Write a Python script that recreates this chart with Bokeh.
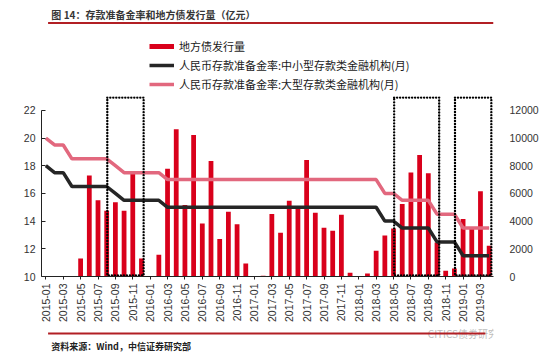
import math
from bokeh.plotting import figure
from bokeh.layouts import column
from bokeh.core.properties import value
from bokeh.models import (Range1d, LinearAxis, FixedTicker, Legend, LegendItem,
                          BoxAnnotation, ColumnDataSource)
from bokeh.embed import file_html
from bokeh.resources import INLINE

# ---------------- data ----------------
months = [f"{y}-{m:02d}" for y in range(2015, 2020) for m in range(1, 13)][:52]

# 地方债发行量 (亿元)
issuance = [0, 0, 0, 0, 1300, 7300, 5500, 4750, 5370, 4750, 7450, 1300,
            0, 1570, 7790, 10630, 5160, 10220, 3830, 8340, 2700, 4680, 3780, 940,
            0, 50, 4510, 3160, 5470, 4870, 8410, 4600, 3520, 3300, 4460, 270,
            0, 220, 1860, 2960, 3470, 5230, 7520, 8770, 7450, 2460, 410, 580,
            4150, 3470, 6150, 2220]

# 人民币存款准备金率:中小型存款类金融机构(月)
rrr_small = [18.0, 17.5, 17.5, 16.5, 16.5, 16.5, 16.5, 16.5, 16.0, 15.5, 15.5, 15.5,
             15.5, 15.5, 15.0, 15.0, 15.0, 15.0, 15.0, 15.0, 15.0, 15.0, 15.0, 15.0,
             15.0, 15.0, 15.0, 15.0, 15.0, 15.0, 15.0, 15.0, 15.0, 15.0, 15.0, 15.0,
             15.0, 15.0, 15.0, 14.0, 14.0, 13.5, 13.5, 13.5, 13.5, 12.5, 12.5, 12.5,
             11.5, 11.5, 11.5, 11.5]

# 人民币存款准备金率:大型存款类金融机构(月)
rrr_large = [20.0, 19.5, 19.5, 18.5, 18.5, 18.5, 18.5, 18.5, 18.0, 17.5, 17.5, 17.5,
             17.5, 17.5, 17.0, 17.0, 17.0, 17.0, 17.0, 17.0, 17.0, 17.0, 17.0, 17.0,
             17.0, 17.0, 17.0, 17.0, 17.0, 17.0, 17.0, 17.0, 17.0, 17.0, 17.0, 17.0,
             17.0, 17.0, 17.0, 16.0, 16.0, 15.5, 15.5, 15.5, 15.5, 14.5, 14.5, 14.5,
             13.5, 13.5, 13.5, 13.5]

left_ticks = [10, 12, 14, 16, 18, 20, 22]
right_ticks = [0, 2000, 4000, 6000, 8000, 10000, 12000]

# highlighted periods (dotted boxes)
boxes = [("2015-08", "2015-12"), ("2018-05", "2018-10"), ("2018-12", "2019-04")]

title_text = "图 14：存款准备金率和地方债发行量（亿元）"
source_text = "资料来源：Wind，中信证券研究部"
watermark_text = "CITICS债券研究"
legend_labels = ["地方债发行量",
                 "人民币存款准备金率:中小型存款类金融机构(月)",
                 "人民币存款准备金率:大型存款类金融机构(月)"]

# ---------------- style ----------------
W, H = 550, 357
HEAD_H = 96          # header strip (title + legend)
FOOT_H = 31          # footer strip (source)
MAIN_H = H - HEAD_H - FOOT_H
FL, FR = 41, 493     # frame left / right in px
FB = 180             # frame bottom within main figure
RED = "#D9001B"
BLACK = "#262626"
PINK = "#E2687E"
DARKRED = "#B21F24"
CJK = "Noto Sans CJK SC"
LAT = "Liberation Sans"


def strip(height):
    f = figure(width=W, height=height, x_range=Range1d(0, W), y_range=Range1d(0, height),
               x_axis_type=None, y_axis_type=None, output_backend="svg",
               toolbar_location=None, min_border=0)
    f.min_border_left = f.min_border_right = f.min_border_top = f.min_border_bottom = 0
    f.outline_line_color = None
    f.background_fill_color = "white"
    f.border_fill_color = "white"
    return f


# ---------------- main chart ----------------
idx = list(range(len(months)))
src = ColumnDataSource(dict(x=idx, month=months, v=issuance, s=rrr_small, l=rrr_large))

p = figure(width=W, height=MAIN_H,
           x_range=Range1d(-0.5, len(months) - 0.5), y_range=Range1d(10, 23),
           x_axis_type=None, y_axis_type=None,
           output_backend="svg", toolbar_location=None,
           min_border_left=FL, min_border_right=W - FR,
           min_border_top=0, min_border_bottom=MAIN_H - FB)
p.extra_y_ranges = {"r": Range1d(0, 13000)}
p.outline_line_color = None
p.background_fill_color = "white"
p.border_fill_color = "white"

xa = LinearAxis(ticker=FixedTicker(ticks=idx[::2]))
xa.major_label_overrides = {i: months[i] for i in idx[::2]}
xa.major_label_orientation = math.pi / 2
xa.major_label_text_font = LAT
xa.major_label_text_font_size = "10.5px"
xa.major_label_text_color = "#333333"
xa.major_label_standoff = 4
xa.major_tick_in = 0
xa.major_tick_out = 3
xa.minor_tick_line_color = None
xa.axis_line_color = "#222222"
xa.major_tick_line_color = "#222222"
p.add_layout(xa, "below")

ya = LinearAxis(ticker=FixedTicker(ticks=left_ticks), bounds=(10, 22))
ya.major_label_text_font = LAT
ya.major_label_text_font_size = "10.5px"
ya.major_label_text_color = "#333333"
ya.major_label_standoff = 6
ya.major_tick_in = 4
ya.major_tick_out = 0
ya.minor_tick_line_color = None
ya.axis_line_color = "#222222"
ya.major_tick_line_color = "#222222"
p.add_layout(ya, "left")

ra = LinearAxis(y_range_name="r", ticker=FixedTicker(ticks=right_ticks), bounds=(0, 12000))
ra.major_label_text_font = LAT
ra.major_label_text_font_size = "10.5px"
ra.major_label_text_color = "#333333"
ra.major_label_standoff = 10
ra.major_tick_line_color = None
ra.minor_tick_line_color = None
ra.axis_line_color = None
p.add_layout(ra, "right")

p.vbar(x="x", top="v", width=0.55, source=src, y_range_name="r",
       fill_color=RED, line_color=None)
p.line(x="x", y="s", source=src, line_color=BLACK, line_width=3.5)
p.line(x="x", y="l", source=src, line_color=PINK, line_width=3.5)

mi = {m: i for i, m in enumerate(months)}
bsrc = ColumnDataSource(dict(
    left=[mi[a] + 0.07 for a, b in boxes],
    right=[mi[b] + 0.25 for a, b in boxes],
    top=[22.93] * len(boxes),
    bottom=[10.08] * len(boxes)))
p.quad(left="left", right="right", top="top", bottom="bottom", source=bsrc,
       fill_color=None, line_color="black", line_width=2.4,
       line_dash="0 3", line_cap="round")

# ---------------- header: title + legend ----------------
h = strip(HEAD_H)
h.text(x=[12], y=[HEAD_H - 14], text=[title_text], text_font=value(CJK),
       text_font_size=value("10px"), text_font_style="bold",
       text_color="#363636", text_baseline="middle", text_align="left")
h.add_layout(BoxAnnotation(left=8, right=W, bottom=HEAD_H - 23.5, top=HEAD_H - 21.5,
                           fill_color=DARKRED, fill_alpha=1, line_color=None))
# legend proxies (off-screen, only their legend swatches are seen)
off = dict(x=[-20, -10], y=[-20, -20])
lg_bar = h.line(line_color=RED, line_width=5, **off)
lg_small = h.line(line_color=BLACK, line_width=3.5, **off)
lg_large = h.line(line_color=PINK, line_width=3.5, **off)
legend = Legend(items=[LegendItem(label=legend_labels[0], renderers=[lg_bar]),
                       LegendItem(label=legend_labels[1], renderers=[lg_small]),
                       LegendItem(label=legend_labels[2], renderers=[lg_large])],
                location=(108, HEAD_H - 92), orientation="vertical",
                glyph_width=25, glyph_height=16, label_height=16, spacing=3,
                padding=0, margin=0, label_standoff=5,
                border_line_alpha=0, background_fill_alpha=0,
                label_text_font=CJK, label_text_font_size="11px",
                label_text_color="#1a1a1a")
h.add_layout(legend)

# ---------------- footer: source ----------------
f = strip(FOOT_H)
f.add_layout(BoxAnnotation(left=8, right=540, bottom=H - 334, top=H - 332,
                           fill_color=DARKRED, fill_alpha=1, line_color=None))
f.text(x=[12], y=[H - 346], text=[source_text], text_font=value(CJK),
       text_font_size=value("9px"), text_font_style="bold",
       text_color="#222222", text_baseline="middle", text_align="left")
f.text(x=[470], y=[H - 333], text=[watermark_text], text_font=value(CJK),
       text_font_size=value("10px"), text_color="#bdbdbd",
       text_baseline="middle", text_align="left")

layout = column(h, p, f, spacing=0)
open("out.html", "w").write(file_html(layout, INLINE))
